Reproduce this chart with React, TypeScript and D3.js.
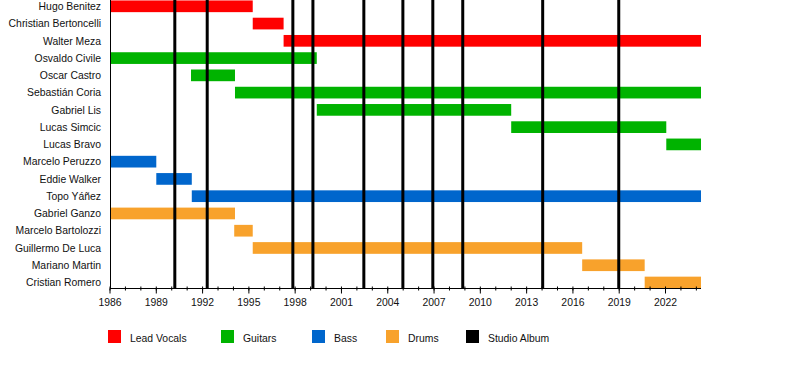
import React from 'react';
import * as d3 from 'd3';

// 멤버별 활동 기간 (연도 소수 표기)
const memberNames = [
  'Hugo Benitez', 'Christian Bertoncelli', 'Walter Meza', 'Osvaldo Civile', 'Oscar Castro',
  'Sebastián Coria', 'Gabriel Lis', 'Lucas Simcic', 'Lucas Bravo', 'Marcelo Peruzzo',
  'Eddie Walker', 'Topo Yáñez', 'Gabriel Ganzo', 'Marcelo Bartolozzi', 'Guillermo De Luca',
  'Mariano Martin', 'Cristian Romero'
];
const memberRoles = [
  'vocals', 'vocals', 'vocals', 'guitars', 'guitars', 'guitars', 'guitars', 'guitars', 'guitars',
  'bass', 'bass', 'bass', 'drums', 'drums', 'drums', 'drums', 'drums'
];
const memberStart = [
  1986, 1995.25, 1997.25, 1986, 1991.25, 1994.1, 1999.4, 2012.0, 2022.05,
  1986, 1989.0, 1991.3, 1986, 1994.05, 1995.25, 2016.6, 2020.65
];
const memberEnd = [
  1995.25, 1997.25, 2024.3, 1999.4, 1994.1, 2024.3, 2012.0, 2022.05, 2024.3,
  1989.0, 1991.3, 2024.3, 1994.1, 1995.25, 2016.6, 2020.65, 2024.3
];

// 스튜디오 앨범 발매 시점
const albumDates = [1990.2, 1992.3, 1997.85, 1999.15, 2002.45, 2004.98, 2006.92, 2008.86, 2014.04, 2018.97];

const tickYears = [1986, 1989, 1992, 1995, 1998, 2001, 2004, 2007, 2010, 2013, 2016, 2019, 2022];
const startYear = 1986;
const endYear = 2024.3;

const legendKeys = ['vocals', 'guitars', 'bass', 'drums', 'album'];
const legendLabels = ['Lead Vocals', 'Guitars', 'Bass', 'Drums', 'Studio Album'];

const ROLE_COLORS: Record<string, string> = {
  vocals: '#ff0000',
  guitars: '#00b300',
  bass: '#0066cc',
  drums: '#f8a22c',
  album: '#000000'
};

const FONT = '"Liberation Sans", Arial, sans-serif';

export default function App() {
  const width = 800;
  const height = 368;
  const left = 110;
  const right = 701;
  const axisY = 288.5;
  const barH = 11.7;

  const x = d3.scaleLinear().domain([startYear, endYear]).range([left, right]);
  const y = d3.scalePoint<string>().domain(memberNames).range([6.3, 282.5]);

  const minorYears = d3.range(1986, 2025);
  const legendX = [108, 221, 312, 386, 466];

  return (
    <svg width={width} height={height} style={{ position: 'absolute', left: 0, top: 0, background: '#fff' }}>
      {/* 멤버 막대 */}
      {memberNames.map((name, i) => (
        <rect
          key={name}
          x={x(memberStart[i])}
          y={(y(name) as number) - barH / 2}
          width={x(memberEnd[i]) - x(memberStart[i])}
          height={barH}
          fill={ROLE_COLORS[memberRoles[i]]}
        />
      ))}

      {/* 앨범 세로선 */}
      {albumDates.map(d => (
        <line key={d} x1={x(d)} x2={x(d)} y1={0} y2={axisY} stroke="#000" strokeWidth={3} />
      ))}

      {/* 이름 라벨 */}
      {memberNames.map(name => (
        <text
          key={name}
          x={101}
          y={(y(name) as number) + 3.7}
          textAnchor="end"
          fontFamily={FONT}
          fontSize={10.4}
          fill="#111"
        >
          {name}
        </text>
      ))}

      {/* 축 */}
      <line x1={left + 0.5} x2={left + 0.5} y1={0} y2={axisY} stroke="#000" strokeWidth={1} />
      <line x1={left} x2={right} y1={axisY} y2={axisY} stroke="#000" strokeWidth={1} />
      {minorYears.map(yr => (
        <line key={yr} x1={x(yr)} x2={x(yr)} y1={axisY - 2} y2={axisY + 2} stroke="#000" strokeWidth={1} />
      ))}
      {tickYears.map(yr => (
        <g key={yr}>
          <line x1={x(yr)} x2={x(yr)} y1={axisY} y2={axisY + 5} stroke="#000" strokeWidth={1} />
          <text x={x(yr)} y={axisY + 17} textAnchor="middle" fontFamily={FONT} fontSize={10.4} fill="#111">
            {yr}
          </text>
        </g>
      ))}

      {/* 범례 */}
      {legendKeys.map((k, i) => (
        <g key={k}>
          <rect x={legendX[i]} y={330} width={13} height={13} fill={ROLE_COLORS[k]} />
          <text x={legendX[i] + 22} y={341.5} fontFamily={FONT} fontSize={10.4} fill="#111">
            {legendLabels[i]}
          </text>
        </g>
      ))}
    </svg>
  );
}
